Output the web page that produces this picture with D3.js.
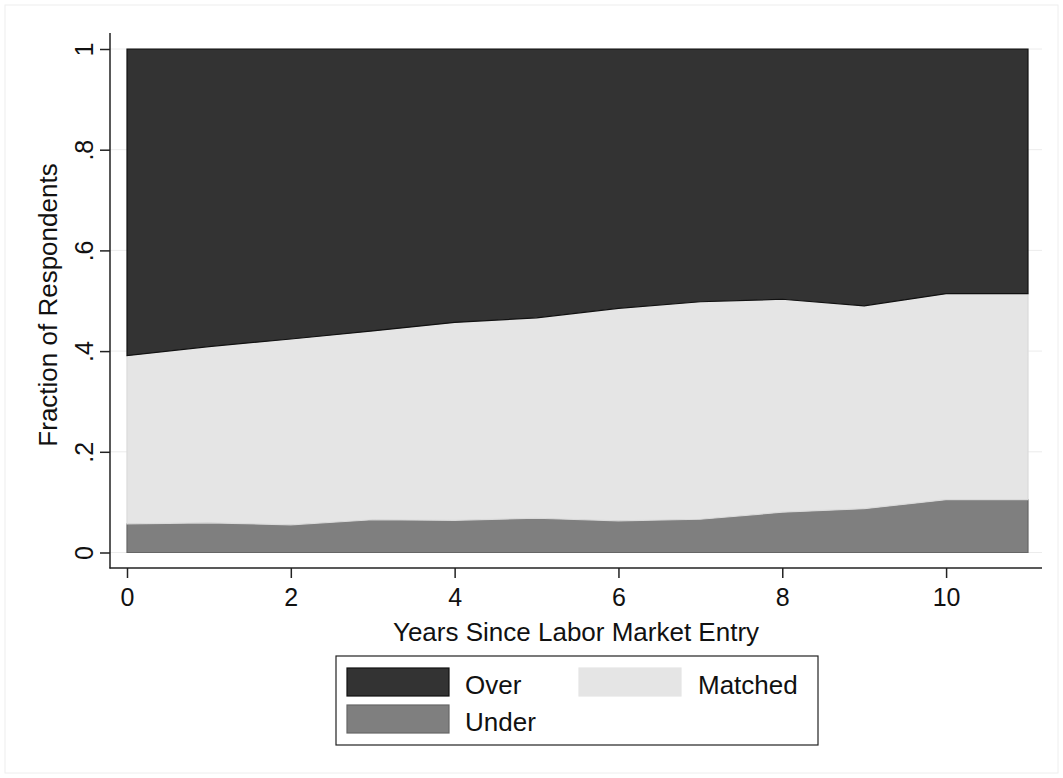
<!DOCTYPE html>
<html>
<head>
<meta charset="utf-8">
<script src="https://cdn.jsdelivr.net/npm/d3@7"></script>
<style>
  body { margin: 0; background: #fff; }
  text { font-family: "Liberation Sans", Arial, Helvetica, sans-serif; fill: #111; }
</style>
</head>
<body>
<div id="graph"></div>
<script>
// données
var years = [0, 1, 2, 3, 4, 5, 6, 7, 8, 9, 10, 11];
var under   = [0.057, 0.059, 0.055, 0.065, 0.064, 0.068, 0.063, 0.066, 0.080, 0.087, 0.105, 0.105];
var matched = [0.334, 0.350, 0.369, 0.375, 0.393, 0.398, 0.422, 0.432, 0.423, 0.403, 0.409, 0.409];
var over    = [0.609, 0.591, 0.576, 0.560, 0.543, 0.534, 0.515, 0.502, 0.497, 0.510, 0.486, 0.486];
var xTicks = [0, 2, 4, 6, 8, 10];
var yTicks = [0, 0.2, 0.4, 0.6, 0.8, 1];
var yTickLabels = ["0", ".2", ".4", ".6", ".8", "1"];
var seriesNames = ["Under", "Matched", "Over"];

var W = 1063, H = 778;
var colors = { Over: "#333333", Matched: "#e5e5e5", Under: "#7f7f7f" };
var strokes = { Over: "#111111", Matched: "#dadada", Under: "#666666" };

var svg = d3.select("#graph").append("svg")
  .attr("width", W).attr("height", H);

// cadre extérieur léger
svg.append("rect")
  .attr("x", 5).attr("y", 5).attr("width", W - 10).attr("height", H - 10)
  .attr("fill", "none").attr("stroke", "#eeeeee");

var x = d3.scaleLinear().domain([0, 11]).range([127, 1028]);
var y = d3.scaleLinear().domain([0, 1]).range([552.5, 49]);

var table = years.map(function(yr, i) {
  return { year: yr, Under: under[i], Matched: matched[i], Over: over[i] };
});

var stack = d3.stack().keys(seriesNames);
var layers = stack(table);

// grille horizontale
svg.append("g").selectAll("line")
  .data(yTicks)
  .enter().append("line")
    .attr("x1", 110).attr("x2", 1042)
    .attr("y1", function(d) { return y(d); })
    .attr("y2", function(d) { return y(d); })
    .attr("stroke", "#ececec").attr("stroke-width", 1);

var area = d3.area()
  .x(function(d) { return x(d.data.year); })
  .y0(function(d) { return y(d[0]); })
  .y1(function(d) { return y(d[1]); });

svg.append("g").selectAll("path")
  .data(layers)
  .enter().append("path")
    .attr("d", area)
    .attr("fill", function(d) { return colors[d.key]; })
    .attr("stroke", function(d) { return strokes[d.key]; })
    .attr("stroke-width", 1.2);

// axe Y
var yAxis = svg.append("g")
  .attr("transform", "translate(110,0)")
  .call(d3.axisLeft(y).tickValues(yTicks).tickSize(10).tickSizeOuter(0)
    .tickFormat(function(d, i) { return yTickLabels[i]; }));
yAxis.select(".domain").remove();
yAxis.selectAll(".tick line").attr("stroke", "#222").attr("stroke-width", 1.5);
yAxis.selectAll(".tick text")
  .attr("transform", "rotate(-90)")
  .attr("x", 0).attr("y", -17).attr("dy", 0)
  .attr("text-anchor", "middle")
  .style("font-size", "25px").style("font-family", "'Liberation Sans', Arial, sans-serif")
  .attr("fill", "#111");
svg.append("line")
  .attr("x1", 110).attr("x2", 110).attr("y1", 33).attr("y2", 568.5)
  .attr("stroke", "#222").attr("stroke-width", 1.5);

// axe X
var xAxis = svg.append("g")
  .attr("transform", "translate(0,568)")
  .call(d3.axisBottom(x).tickValues(xTicks).tickSize(10).tickSizeOuter(0)
    .tickFormat(d3.format("d")));
xAxis.select(".domain").remove();
xAxis.selectAll(".tick line").attr("stroke", "#222").attr("stroke-width", 1.5);
xAxis.selectAll(".tick text")
  .attr("y", 20).attr("dy", "0.71em")
  .style("font-size", "25px").style("font-family", "'Liberation Sans', Arial, sans-serif")
  .attr("fill", "#111");
svg.append("line")
  .attr("x1", 109.5).attr("x2", 1042).attr("y1", 568).attr("y2", 568)
  .attr("stroke", "#222").attr("stroke-width", 1.5);

// titres des axes
svg.append("text")
  .attr("transform", "translate(57,305) rotate(-90)")
  .attr("text-anchor", "middle")
  .style("font-size", "26px")
  .text("Fraction of Respondents");

svg.append("text")
  .attr("x", 576).attr("y", 641)
  .attr("text-anchor", "middle")
  .style("font-size", "26px")
  .text("Years Since Labor Market Entry");

// légende
var legend = svg.append("g");
legend.append("rect")
  .attr("x", 336).attr("y", 656).attr("width", 482).attr("height", 89)
  .attr("fill", "#fff").attr("stroke", "#222").attr("stroke-width", 1.2);

var legendItems = [
  { name: "Over", sx: 347, sy: 668, tx: 465, ty: 694 },
  { name: "Under", sx: 347, sy: 705, tx: 465, ty: 731 },
  { name: "Matched", sx: 579, sy: 668, tx: 698, ty: 694 }
];
legend.selectAll(".sw")
  .data(legendItems)
  .enter().append("rect")
    .attr("class", "sw")
    .attr("x", function(d) { return d.sx; })
    .attr("y", function(d) { return d.sy; })
    .attr("width", 102).attr("height", 28)
    .attr("fill", function(d) { return colors[d.name]; })
    .attr("stroke", function(d) { return d.name === "Matched" ? colors[d.name] : strokes[d.name]; })
    .attr("stroke-width", 1.2);
legend.selectAll(".lab")
  .data(legendItems)
  .enter().append("text")
    .attr("class", "lab")
    .attr("x", function(d) { return d.tx; })
    .attr("y", function(d) { return d.ty; })
    .style("font-size", "26px")
    .text(function(d) { return d.name; });
</script>
</body>
</html>
